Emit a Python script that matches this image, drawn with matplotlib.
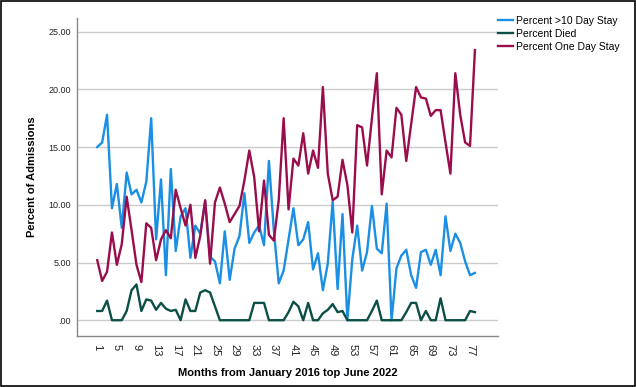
import matplotlib
matplotlib.use("Agg")
import matplotlib.pyplot as plt
from matplotlib.patches import Rectangle

plt.rcParams["font.family"] = ["Liberation Sans", "DejaVu Sans"]

months = list(range(1, 79))

pct_long_stay = [
    15.0, 15.4, 17.8, 9.7, 11.8, 8.0, 12.8, 10.9, 11.3, 10.2,
    12.0, 17.5, 7.0, 12.2, 3.9, 13.1, 6.0, 9.0, 9.7, 5.4,
    8.2, 7.5, 10.3, 5.5, 5.1, 3.2, 7.7, 3.5, 6.2, 7.3,
    11.0, 6.7, 7.6, 8.2, 6.5, 13.8, 7.8, 3.2, 4.3, 7.0,
    9.7, 6.5, 7.0, 8.5, 4.4, 5.8, 2.6, 4.9, 10.3, 2.7,
    9.2, 0.0, 5.3, 8.2, 4.3, 5.9, 9.9, 6.2, 5.8, 10.1,
    0.0, 4.5, 5.6, 6.1, 3.9, 2.8, 5.9, 6.1, 4.8, 6.1,
    3.9, 9.0, 6.0, 7.5, 6.7, 5.1, 3.9, 4.1,
]

pct_died = [
    0.8, 0.8, 1.7, 0.0, 0.0, 0.0, 0.8, 2.6, 3.1, 0.8,
    1.8, 1.7, 0.9, 1.5, 1.0, 0.8, 0.9, 0.0, 1.8, 0.8,
    0.8, 2.4, 2.6, 2.4, 1.2, 0.0, 0.0, 0.0, 0.0, 0.0,
    0.0, 0.0, 1.5, 1.5, 1.5, 0.0, 0.0, 0.0, 0.0, 0.7,
    1.6, 1.2, 0.0, 1.5, 0.0, 0.0, 0.6, 0.9, 1.4, 0.7,
    0.8, 0.0, 0.0, 0.0, 0.0, 0.0, 0.8, 1.7, 0.0, 0.0,
    0.0, 0.0, 0.0, 0.7, 1.5, 1.5, 0.0, 0.8, 0.0, 0.0,
    1.9, 0.0, 0.0, 0.0, 0.0, 0.0, 0.8, 0.7,
]

pct_one_day = [
    5.2, 3.4, 4.2, 7.6, 4.8, 6.6, 10.7, 7.8, 4.8, 3.3,
    8.4, 8.0, 5.2, 7.0, 7.8, 7.1, 11.3, 9.7, 8.2, 10.0,
    5.4, 7.3, 10.4, 4.9, 10.2, 11.5, 10.1, 8.5, 9.2, 9.9,
    12.1, 14.7, 12.4, 7.7, 12.1, 7.4, 6.9, 10.4, 17.5, 9.6,
    14.0, 13.4, 16.2, 12.7, 14.7, 13.2, 20.2, 12.7, 10.4, 10.7,
    13.9, 11.7, 7.6, 16.9, 16.7, 13.4, 17.5, 21.4, 10.9, 14.7,
    14.1, 18.4, 17.8, 13.8, 17.0, 20.2, 19.3, 19.2, 17.7, 18.2,
    18.2, 15.4, 12.7, 21.4, 17.8, 15.4, 15.1, 23.4,
]

BLUE = "#1a8fe3"
GREEN = "#0b4f46"
MAROON = "#9a0d4c"

fig = plt.figure(figsize=(6.36, 3.87), dpi=100)
ax = fig.add_axes([0.1205, 0.132, 0.6625, 0.822])

ax.plot(months, pct_long_stay, color=BLUE, lw=1.7, label="Percent >10 Day Stay")
ax.plot(months, pct_died, color=GREEN, lw=1.7, label="Percent Died")
ax.plot(months, pct_one_day, color=MAROON, lw=1.7, label="Percent One Day Stay")

ax.set_xlim(-3.2, 82.7)
ax.set_ylim(-1.36, 26.2)

ax.set_yticks([0, 5, 10, 15, 20, 25])
ax.set_yticklabels([".00", "5.00", "10.00", "15.00", "20.00", "25.00"])
ax.set_xticks(months[::4])
ax.set_xticklabels([str(m) for m in months[::4]], rotation=270)
ax.tick_params(axis="y", length=0, labelsize=6.5, pad=4, colors="#222222")
ax.tick_params(axis="x", length=0, labelsize=8, pad=6, colors="#222222")

ax.grid(axis="y", color="#cccccc", lw=1.0)
ax.set_axisbelow(True)
for side in ["top", "right"]:
    ax.spines[side].set_visible(False)
for side in ["left", "bottom"]:
    ax.spines[side].set_color("#888888")
    ax.spines[side].set_linewidth(1.0)

ax.set_xlabel("Months from January 2016 top June 2022", fontsize=8, fontweight="bold", labelpad=8)
ax.set_ylabel("Percent of Admissions", fontsize=8, fontweight="bold", labelpad=8)

fig.legend(loc="upper left", bbox_to_anchor=(0.776, 0.97), frameon=False,
           fontsize=7.5, handlelength=1.5, handletextpad=0.3, labelspacing=0.3,
           borderaxespad=0)

fig.patches.append(Rectangle((0.002, 0.003), 0.996, 0.994, transform=fig.transFigure,
                             fill=False, edgecolor="black", lw=1.2))

fig.savefig("out.png", dpi=100)
